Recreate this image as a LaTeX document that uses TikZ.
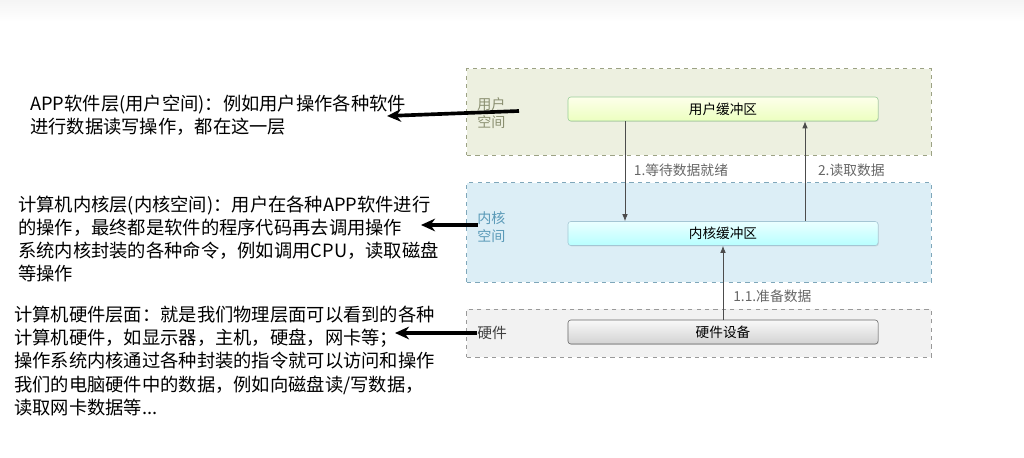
\documentclass[tikz,border=0pt]{standalone}
\usepackage{fontspec}
\setmainfont{Noto Sans CJK SC}
\usetikzlibrary{arrows.meta,shadows}

\definecolor{userfill}{HTML}{EDF0E0}
\definecolor{userline}{HTML}{9CA284}
\definecolor{usertext}{HTML}{8A8F70}
\definecolor{kernfill}{HTML}{DCEEF6}
\definecolor{kernline}{HTML}{7FA7BA}
\definecolor{kerntext}{HTML}{5A9AB8}
\definecolor{hwfill}{HTML}{F2F2F2}
\definecolor{hwline}{HTML}{999999}
\definecolor{steptext}{HTML}{666666}

\tikzset{
  layerbox/.style={draw, dashed, line width=0.7pt, minimum width=11.6cm, inner sep=0pt},
  bufbox/.style={draw, rounded corners=2pt, minimum width=7.75cm, minimum height=0.6cm,
    inner sep=0pt, font=\fontsize{9.7}{11}\selectfont,
    drop shadow={opacity=0.2, shadow xshift=0.6pt, shadow yshift=-0.6pt}},
  layerlabel/.style={anchor=west, align=left, inner sep=0pt, font=\fontsize{10}{12.5}\selectfont},
  steplabel/.style={anchor=west, inner sep=0pt, text=steptext, font=\fontsize{9.8}{11}\selectfont},
  flow/.style={draw=black!70, line width=0.6pt, -{Latex[length=5pt,width=4pt]}},
  note/.style={anchor=west, align=left, inner sep=0pt, font=\fontsize{13}{16.5}\selectfont},
  callout/.style={line width=2.6pt, -{Stealth[length=10pt,width=9pt]}}
}

\begin{document}
\begin{tikzpicture}[x=0.025cm, y=-0.025cm]
    \useasboundingbox (0,0) rectangle (1024,458);
    % top band of the screenshot
    \shade[top color=gray!8, bottom color=white] (0,0) rectangle (1024,22);

    % Layers
    \node[layerbox, draw=userline, fill=userfill, minimum height=2.15cm] (userlayer) at (699,112) {};
    \node[layerbox, draw=kernline, fill=kernfill, minimum height=2.475cm] (kernlayer) at (699,232.5) {};
    \node[layerbox, draw=hwline, fill=hwfill, minimum height=1.2cm] (hwlayer) at (699,333) {};

    \node[layerlabel, text=usertext] (userlbl) at (477,113) {用户\\空间};
    \node[layerlabel, text=kerntext] (kernlbl) at (477,227) {内核\\空间};
    \node[layerlabel, text=black!75, font=\fontsize{10.5}{12.5}\selectfont] (hwlbl) at (477,333) {硬件};

    % Buffers
    \node[bufbox, draw=green!35!gray!60, top color=green!8!yellow!8, bottom color=green!30!yellow!25] (userbuf) at (723,109) {用户缓冲区};
    \node[bufbox, draw=cyan!40!gray!60, top color=cyan!8, bottom color=cyan!28] (kernbuf) at (723,233.5) {内核缓冲区};
    \node[bufbox, draw=black!60, top color=gray!5, bottom color=gray!35] (hwdev) at (723,332) {硬件设备};

    % Data flow
    \draw[flow] (userbuf.south -| 625,0) -- (kernbuf.north -| 625,0)
        node[steplabel, pos=0.49, xshift=6pt] (waitlbl) {1.等待数据就绪};
    \draw[flow] (kernbuf.north -| 805,0) -- (userbuf.south -| 805,0)
        node[steplabel, pos=0.51, xshift=9pt] (readlbl) {2.读取数据};
    \draw[flow] (hwdev.north) -- (kernbuf.south)
        node[steplabel, pos=0.32, xshift=7pt] (preplbl) {1.1.准备数据};

    % Notes on the left
    \node[note] (appnote) at (30,115) {APP软件层(用户空间)：例如用户操作各种软件\\进行数据读写操作，都在这一层};
    \node[note] (kernnote) at (18,239) {计算机内核层(内核空间)：用户在各种APP软件进行\\的操作，最终都是软件的程序代码再去调用操作\\系统内核封装的各种命令，例如调用CPU，读取磁盘\\等操作};
    \node[note] (hwnote) at (14,361) {计算机硬件层面：就是我们物理层面可以看到的各种\\计算机硬件，如显示器，主机，硬盘，网卡等；\\操作系统内核通过各种封装的指令就可以访问和操作\\我们的电脑硬件中的数据，例如向磁盘读/写数据，\\读取网卡数据等...};

    % Pointers
    \coordinate (userfrom) at (519,111);
    \coordinate (userto) at (387,116);
    \coordinate (kernfrom) at (478,225);
    \coordinate (kernto) at (421,225);
    \coordinate (hwfrom) at (477,333);
    \coordinate (hwto) at (395,333);
    \draw[callout] (userfrom) -- (userto);
    \draw[callout] (kernfrom) -- (kernto);
    \draw[callout] (hwfrom) -- (hwto);
\end{tikzpicture}
\end{document}
